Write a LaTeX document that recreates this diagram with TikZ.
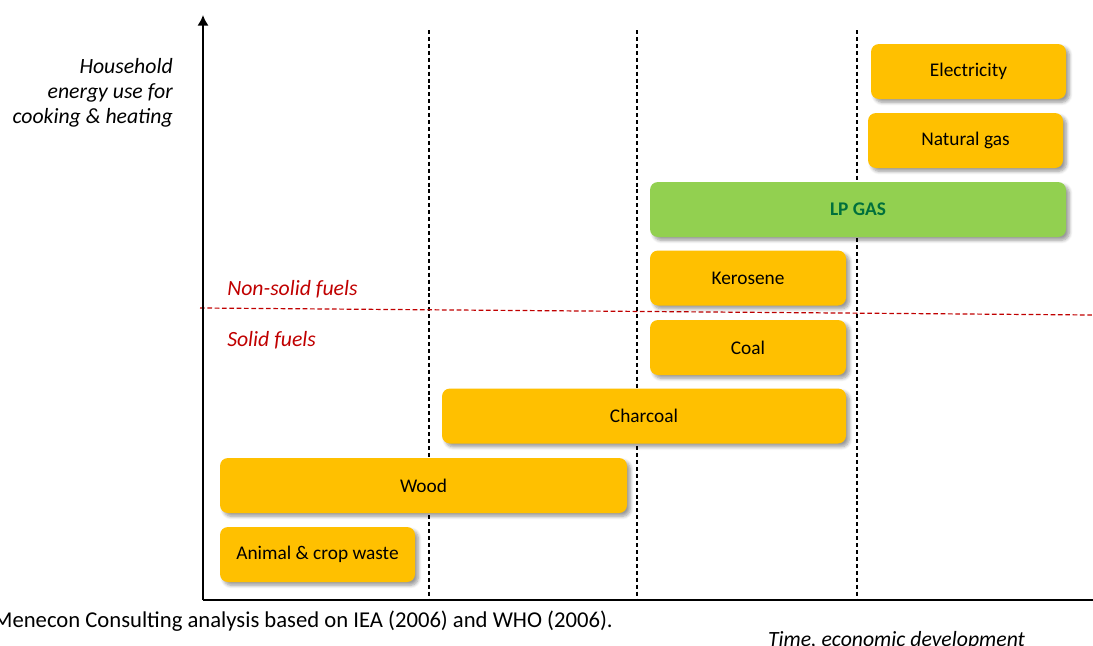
\documentclass[tikz,border=0pt]{standalone}
\usepackage{fontspec}
\setmainfont{Carlito}
\usetikzlibrary{shadows,shadows.blur,arrows.meta}
\definecolor{fuelorange}{RGB}{255,192,0}
\definecolor{lpgreen}{RGB}{146,208,80}
\definecolor{lptext}{RGB}{0,112,60}
\definecolor{fuelred}{RGB}{192,0,0}
\tikzset{
  fuelbox/.style={rounded corners=6pt, fill=fuelorange, inner sep=0pt,
    minimum height=41.25pt, font=\fontsize{14.5}{17}\selectfont,
    blur shadow={shadow xshift=2.5pt, shadow yshift=-2.5pt, shadow blur steps=6, shadow blur radius=2.5pt}},
  lpbox/.style={fuelbox, fill=lpgreen, text=lptext, font=\fontsize{14.5}{17}\selectfont\bfseries},
  axisline/.style={line width=1.5pt, black},
  period/.style={line width=0.9pt, black, dash pattern=on 3pt off 2.2pt},
  divider/.style={line width=0.9pt, fuelred, dash pattern=on 3.5pt off 2pt},
  redlabel/.style={text=fuelred, font=\fontsize{16.3}{19.5}\selectfont\itshape, anchor=base west, inner sep=0pt},
}
\begin{document}
\begin{tikzpicture}[x=0.75pt, y=-0.75pt]
\useasboundingbox (0,0) rectangle (1093,646);
\begin{scope}
\clip (0,0) rectangle (1093,646);
% period separators
\coordinate (p1t) at (429,30); \coordinate (p1b) at (429,600);
\coordinate (p2t) at (637,30); \coordinate (p2b) at (637,600);
\coordinate (p3t) at (857,30); \coordinate (p3b) at (857,600);
\draw[period] (p1t) -- (p1b);
\draw[period] (p2t) -- (p2b);
\draw[period] (p3t) -- (p3b);
% solid / non-solid divider
\coordinate (dl) at (200,308); \coordinate (dr) at (1093,315);
\draw[divider] (dl) -- (dr);
% boxes
\node (elec) [fuelbox, minimum width=146.25pt] at (968.5,71.5) {Electricity};
\node (ngas) [fuelbox, minimum width=146.25pt] at (965.5,140.5) {Natural gas};
\node (lpg)  [lpbox, minimum width=312pt] at (858,209.5) {LP GAS};
\node (kero) [fuelbox, minimum width=147pt] at (748,278) {Kerosene};
\node (coal) [fuelbox, minimum width=147pt] at (748,347.5) {Coal};
\node (char) [fuelbox, minimum width=303pt] at (644,416) {Charcoal};
\node (wood) [fuelbox, minimum width=305.25pt] at (423.5,485.5) {Wood};
\node (waste) [fuelbox, minimum width=146.25pt] at (317.5,554.5) {Animal \& crop waste};
% axes
\coordinate (O) at (203,600);
\coordinate (ytop) at (203,15);
\coordinate (xend) at (1093,600);
\draw[axisline, -{Latex[length=8pt,width=8.5pt]}] (O) -- (ytop);
\draw[axisline] (O) -- (xend);
% labels
\node (ylab) [anchor=base east, align=right, inner sep=0pt, font=\fontsize{16.3}{18.75}\selectfont\itshape] at (173,123)
  {Household\\energy use for\\cooking \& heating};
\node (nonsolid) [redlabel] at (227,295) {Non-solid fuels};
\node (solid) [redlabel] at (227,346) {Solid fuels};
\node (source) [anchor=base east, inner sep=0pt, font=\fontsize{17}{20}\selectfont] at (613,627)
  {Menecon Consulting analysis based on IEA (2006) and WHO (2006).};
\node (xlab) [anchor=base, inner sep=0pt, font=\fontsize{16.3}{19.5}\selectfont\itshape] at (896.5,646)
  {Time, economic development};
\end{scope}
\end{tikzpicture}
\end{document}
